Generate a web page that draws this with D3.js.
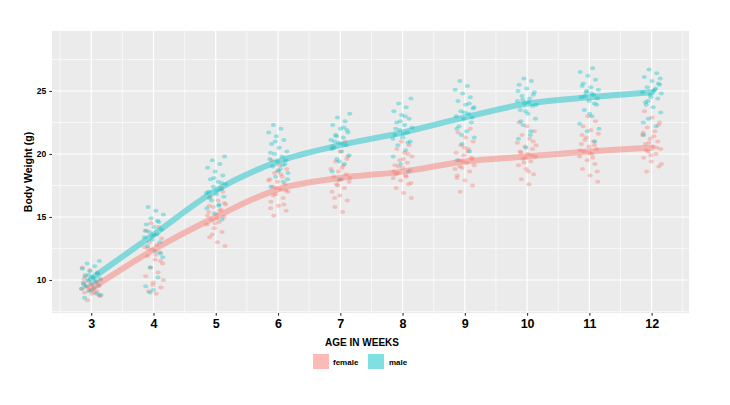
<!DOCTYPE html>
<html>
<head>
<meta charset="utf-8">
<script src="https://cdn.jsdelivr.net/npm/d3@7"></script>
<style>
  body { margin: 0; background: #fff; }
  text { font-family: "Liberation Sans", Arial, sans-serif; font-weight: bold; }
</style>
</head>
<body>
<svg id="chart"></svg>
<script>
// Weeks on the x axis
const weeks = [3, 4, 5, 6, 7, 8, 9, 10, 11, 12];
const yTicks = [10, 15, 20, 25];

// Individual body weights (g) per week
const femaleWeights = [
  [8.4, 8.7, 8.9, 9.0, 9.1, 9.2, 9.3, 9.3, 9.4, 9.5, 9.6, 9.7, 9.8, 9.9, 10.0, 10.2, 10.4, 10.6, 10.8, 11.0, 9.0, 9.5, 8.8, 9.7, 10.1],
  [8.9, 9.1, 9.4, 9.8, 10.3, 10.6, 11.0, 11.3, 11.6, 11.9, 12.2, 12.4, 12.6, 12.8, 13.0, 13.3, 13.6, 13.9, 14.2, 14.5, 10.0, 12.0, 12.5, 11.5, 9.6],
  [12.7, 13.0, 13.4, 13.8, 14.1, 14.4, 14.6, 14.8, 15.0, 15.2, 15.4, 15.6, 15.8, 16.0, 16.3, 16.6, 17.0, 14.5, 15.1, 15.5, 13.6, 16.1, 14.9, 15.9, 17.3],
  [15.1, 15.5, 15.9, 16.2, 16.5, 16.8, 17.0, 17.2, 17.4, 17.6, 17.8, 18.0, 18.2, 18.5, 18.8, 19.1, 19.5, 16.0, 17.3, 17.9, 18.4, 16.7, 17.1, 18.7, 15.7],
  [15.4, 15.8, 16.3, 16.7, 17.0, 17.3, 17.6, 17.8, 18.0, 18.2, 18.4, 18.6, 18.8, 19.1, 19.4, 19.8, 20.2, 20.6, 21.0, 17.5, 18.1, 18.9, 16.5, 19.6, 17.9],
  [16.5, 16.9, 17.3, 17.6, 17.9, 18.1, 18.3, 18.5, 18.7, 18.9, 19.1, 19.3, 19.5, 19.8, 20.1, 20.4, 20.7, 21.0, 18.6, 18.2, 19.0, 17.7, 19.6, 18.4, 20.0],
  [17.0, 17.5, 17.9, 18.3, 18.6, 18.9, 19.1, 19.3, 19.5, 19.7, 19.9, 20.1, 20.4, 20.7, 21.0, 21.3, 21.7, 22.0, 19.4, 18.8, 20.2, 19.0, 19.6, 20.5, 18.1],
  [17.6, 18.0, 18.4, 18.8, 19.1, 19.4, 19.6, 19.8, 20.0, 20.2, 20.4, 20.6, 20.9, 21.2, 21.5, 21.8, 22.2, 22.5, 19.9, 19.3, 20.7, 18.6, 20.1, 21.0, 19.7],
  [17.8, 18.3, 18.8, 19.2, 19.5, 19.8, 20.0, 20.2, 20.4, 20.6, 20.8, 21.0, 21.3, 21.6, 21.9, 22.2, 22.6, 23.0, 20.3, 19.7, 21.1, 18.6, 20.1, 21.5, 20.7],
  [18.6, 19.0, 19.4, 19.7, 20.0, 20.2, 20.4, 20.6, 20.8, 21.0, 21.2, 21.5, 21.8, 22.1, 22.5, 22.9, 23.4, 20.5, 20.9, 19.2, 21.4, 20.3, 22.3, 19.9, 21.7]
];
const maleWeights = [
  [8.6, 8.9, 9.1, 9.3, 9.4, 9.5, 9.6, 9.7, 9.8, 9.9, 10.0, 10.1, 10.2, 10.3, 10.5, 10.7, 10.9, 11.1, 11.3, 11.5, 9.2, 9.6, 9.9, 10.4, 8.8],
  [9.2, 9.5, 10.2, 11.0, 11.8, 12.3, 12.7, 13.0, 13.2, 13.4, 13.6, 13.8, 14.0, 14.2, 14.4, 14.6, 14.9, 15.2, 15.5, 15.8, 12.1, 13.5, 13.9, 14.7, 9.0],
  [14.8, 15.3, 15.7, 16.0, 16.3, 16.6, 16.8, 17.0, 17.2, 17.4, 17.6, 17.8, 18.0, 18.3, 18.6, 18.9, 19.2, 19.5, 19.8, 17.1, 16.5, 17.7, 18.1, 16.9, 15.9],
  [17.4, 17.8, 18.2, 18.5, 18.8, 19.0, 19.2, 19.4, 19.6, 19.8, 20.0, 20.2, 20.5, 20.8, 21.1, 21.4, 21.7, 22.0, 22.3, 19.5, 18.6, 20.1, 19.1, 21.0, 18.0],
  [18.0, 18.6, 19.2, 19.6, 19.9, 20.2, 20.5, 20.7, 20.9, 21.1, 21.3, 21.5, 21.7, 22.0, 22.3, 22.6, 22.9, 23.2, 20.8, 21.0, 21.9, 19.4, 20.4, 22.1, 21.4],
  [18.6, 19.2, 19.8, 20.3, 20.7, 21.0, 21.3, 21.5, 21.7, 21.9, 22.1, 22.3, 22.5, 22.8, 23.1, 23.4, 23.7, 24.0, 24.4, 21.6, 22.0, 20.9, 22.6, 21.2, 23.0],
  [19.5, 20.2, 20.8, 21.3, 21.8, 22.2, 22.5, 22.8, 23.0, 23.2, 23.4, 23.6, 23.9, 24.2, 24.5, 24.8, 25.1, 25.4, 25.8, 22.9, 23.3, 22.0, 24.0, 21.5, 23.7],
  [20.5, 21.2, 21.8, 22.3, 22.8, 23.2, 23.5, 23.8, 24.0, 24.2, 24.4, 24.6, 24.9, 25.2, 25.5, 25.8, 26.0, 23.9, 24.1, 22.6, 24.7, 23.4, 25.0, 21.5, 24.3],
  [21.0, 21.8, 22.4, 23.0, 23.5, 23.9, 24.2, 24.5, 24.7, 24.9, 25.1, 25.3, 25.6, 25.9, 26.2, 26.5, 26.8, 24.6, 24.4, 23.2, 25.4, 24.0, 25.0, 22.0, 24.8],
  [21.5, 22.2, 22.8, 23.3, 23.7, 24.1, 24.4, 24.7, 24.9, 25.1, 25.3, 25.5, 25.8, 26.1, 26.4, 26.7, 24.8, 25.0, 23.9, 25.6, 24.5, 22.5, 25.2, 24.2, 26.0]
];

// Smoothed trend per week
const femaleSmooth = [9.3, 12.4, 15.0, 17.2, 18.1, 18.6, 19.4, 19.8, 20.2, 20.5];
const maleSmooth = [10.1, 13.6, 17.1, 19.4, 20.7, 21.7, 22.9, 24.0, 24.5, 24.9];

const sexes = ["female", "male"];
const colors = { female: "#F8766D", male: "#00BFC4" };

const W = 730, H = 405;
const panel = { left: 52, top: 31, right: 689, bottom: 313 };

const svg = d3.select('#chart')
    .attr('width', W)
    .attr('height', H)
    .style('background', '#fff');

const x = d3.scaleLinear()
    .domain([2.37, 12.6])
    .range([panel.left, panel.right]);

const y = d3.scaleLinear()
    .domain([7.38, 29.76])
    .range([panel.bottom, panel.top]);

// Panel background
svg.append('rect')
    .attr('x', panel.left)
    .attr('y', panel.top)
    .attr('width', panel.right - panel.left)
    .attr('height', panel.bottom - panel.top)
    .attr('fill', '#EBEBEB');

// Grid lines (minor then major)
const minorX = [2.5, 3.5, 4.5, 5.5, 6.5, 7.5, 8.5, 9.5, 10.5, 11.5, 12.5];
const minorY = [7.5, 12.5, 17.5, 22.5, 27.5];
const grid = svg.append('g');
grid.selectAll('.minor-x').data(minorX).enter().append('line')
    .attr('x1', d => x(d)).attr('x2', d => x(d))
    .attr('y1', panel.top).attr('y2', panel.bottom)
    .attr('stroke', '#fff').attr('stroke-width', 0.6);
grid.selectAll('.minor-y').data(minorY).enter().append('line')
    .attr('y1', d => y(d)).attr('y2', d => y(d))
    .attr('x1', panel.left).attr('x2', panel.right)
    .attr('stroke', '#fff').attr('stroke-width', 0.6);
grid.selectAll('.major-x').data(weeks).enter().append('line')
    .attr('x1', d => x(d)).attr('x2', d => x(d))
    .attr('y1', panel.top).attr('y2', panel.bottom)
    .attr('stroke', '#fff').attr('stroke-width', 1.2);
grid.selectAll('.major-y').data(yTicks).enter().append('line')
    .attr('y1', d => y(d)).attr('y2', d => y(d))
    .attr('x1', panel.left).attr('x2', panel.right)
    .attr('stroke', '#fff').attr('stroke-width', 1.2);

// Jittered points
const weightsBySex = { female: femaleWeights, male: maleWeights };
const jitter = i => (((i * 0.618034 + 0.31) % 1) - 0.5) * 0.32;

sexes.forEach(sex => {
    const pts = [];
    weightsBySex[sex].forEach((vals, wi) => {
        vals.forEach((v, i) => pts.push({ week: weeks[wi], w: v, j: jitter(i + wi * 7 + (sex === "male" ? 3 : 0)) }));
    });
    svg.append('g').selectAll('ellipse')
        .data(pts)
        .enter()
        .append('ellipse')
        .attr('cx', d => x(d.week + d.j))
        .attr('cy', d => y(d.w))
        .attr('rx', 2.6)
        .attr('ry', 2.0)
        .attr('fill', colors[sex])
        .attr('opacity', 0.36);
});

// Smooth lines
const smoothBySex = { female: femaleSmooth, male: maleSmooth };
const line = d3.line()
    .x((d, i) => x(weeks[i]))
    .y(d => y(d))
    .curve(d3.curveMonotoneX);

sexes.forEach(sex => {
    svg.append('path')
        .attr('d', line(smoothBySex[sex]))
        .attr('fill', 'none')
        .attr('stroke', colors[sex])
        .attr('stroke-width', 6)
        .attr('stroke-linecap', 'round')
        .attr('opacity', 0.45);
});

// Axes
const xAxis = svg.append('g')
    .attr('transform', `translate(0,${panel.bottom})`)
    .call(d3.axisBottom(x).tickValues(weeks).tickSize(2.7).tickPadding(3));
xAxis.select('.domain').remove();
xAxis.selectAll('line').attr('stroke', '#333').attr('stroke-width', 1.1);
xAxis.selectAll('text')
    .attr('fill', '#000')
    .style('font-size', '12.5px')
    .style('font-family', '"Liberation Sans", Arial, sans-serif')
    .style('font-weight', 'bold');

const yAxis = svg.append('g')
    .attr('transform', `translate(${panel.left},0)`)
    .call(d3.axisLeft(y).tickValues(yTicks).tickSize(2.7).tickPadding(3));
yAxis.select('.domain').remove();
yAxis.selectAll('line').attr('stroke', '#333').attr('stroke-width', 1.1);
yAxis.selectAll('text')
    .attr('fill', '#000')
    .style('font-size', '8.5px')
    .style('font-family', '"Liberation Sans", Arial, sans-serif')
    .style('font-weight', 'bold');

// Axis titles
svg.append('text')
    .attr('x', 362)
    .attr('y', 346)
    .attr('text-anchor', 'middle')
    .style('font-size', '10px')
    .text('AGE IN WEEKS');

svg.append('text')
    .attr('transform', `translate(32,${(panel.top + panel.bottom) / 2}) rotate(-90)`)
    .attr('text-anchor', 'middle')
    .style('font-size', '10.5px')
    .text('Body Weight (g)');

// Legend
const legendItems = [
    { sex: "female", kx: 313, tx: 333 },
    { sex: "male", kx: 368, tx: 389 }
];
const legend = svg.append('g');
legendItems.forEach(d => {
    legend.append('rect')
        .attr('x', d.kx).attr('y', 354)
        .attr('width', 16).attr('height', 15)
        .attr('fill', colors[d.sex])
        .attr('opacity', 0.5);
    legend.append('text')
        .attr('x', d.tx).attr('y', 364.5)
        .style('font-size', '8px')
        .text(d.sex);
});
</script>
</body>
</html>
